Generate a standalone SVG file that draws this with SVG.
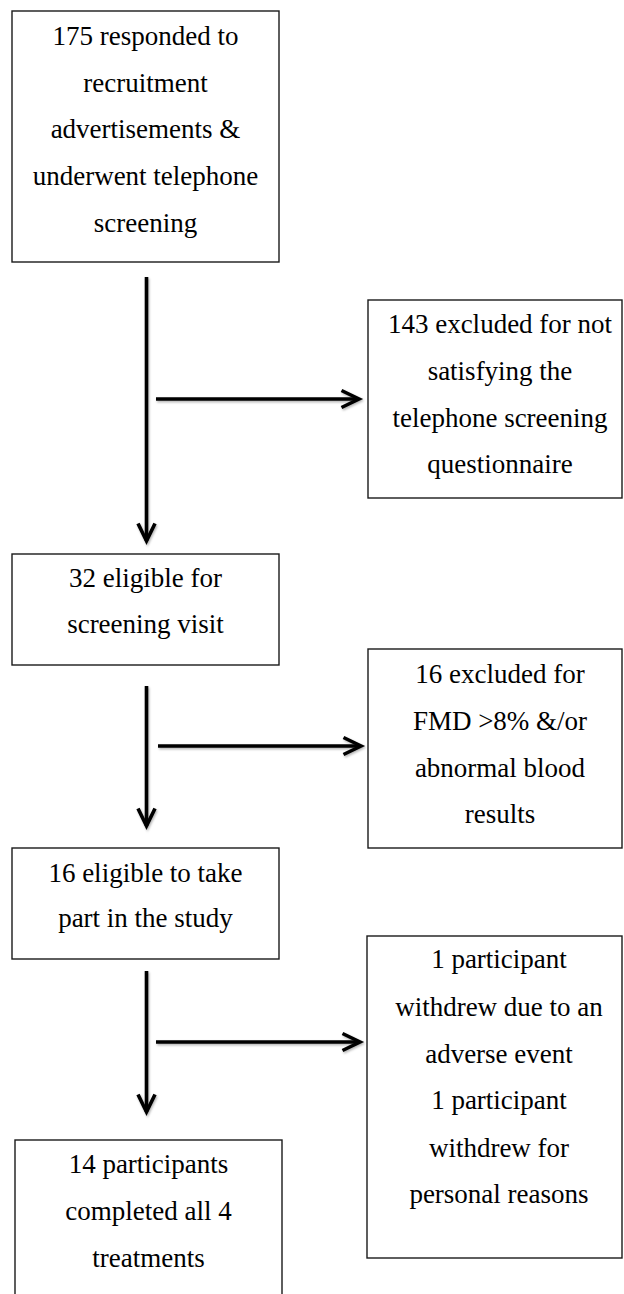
<svg xmlns="http://www.w3.org/2000/svg" width="624" height="1294" viewBox="0 0 624 1294">
  <style>
    .box { fill: #ffffff; stroke: #1a1a1a; stroke-width: 1.4; }
    .lbl { font-family: "Liberation Serif", "Times New Roman", serif; font-size: 27px; fill: #000000; text-anchor: middle; }
    .conn { stroke: #000000; stroke-width: 3.6; fill: none; stroke-linecap: butt; }
  </style>
  <defs>
    <filter id="shadow" filterUnits="userSpaceOnUse" x="0" y="0" width="624" height="1294">
      <feDropShadow dx="1" dy="1.5" stdDeviation="1.2" flood-color="#000000" flood-opacity="0.3"/>
    </filter>
    <marker id="arrow" markerUnits="userSpaceOnUse" markerWidth="24" markerHeight="24" viewBox="-2 -2 24 24" refX="17.5" refY="9" orient="auto" overflow="visible">
      <path d="M0,0.5 L17.5,9 L0,17.5" fill="none" stroke="#000000" stroke-width="3.6" stroke-linejoin="miter" stroke-miterlimit="4"/>
    </marker>
  </defs>
  <rect width="624" height="1294" fill="#ffffff"/>

  <g id="node-responded">
    <rect class="box" x="12" y="11" width="267" height="251"/>
    <text class="lbl" x="145.5" y="45">175 responded to</text>
    <text class="lbl" x="145.5" y="92">recruitment</text>
    <text class="lbl" x="145.5" y="138">advertisements &amp;</text>
    <text class="lbl" x="145.5" y="185">underwent telephone</text>
    <text class="lbl" x="145.5" y="232">screening</text>
  </g>

  <g id="node-excluded-143">
    <rect class="box" x="368" y="300" width="254" height="198"/>
    <text class="lbl" x="500" y="333">143 excluded for not</text>
    <text class="lbl" x="500" y="380">satisfying the</text>
    <text class="lbl" x="500" y="427">telephone screening</text>
    <text class="lbl" x="500" y="473">questionnaire</text>
  </g>

  <g id="node-eligible-32">
    <rect class="box" x="12" y="554" width="267" height="111"/>
    <text class="lbl" x="145.5" y="587">32 eligible for</text>
    <text class="lbl" x="145.5" y="633">screening visit</text>
  </g>

  <g id="node-excluded-16">
    <rect class="box" x="368" y="649" width="254" height="199"/>
    <text class="lbl" x="500" y="683">16 excluded for</text>
    <text class="lbl" x="500" y="730">FMD &gt;8% &amp;/or</text>
    <text class="lbl" x="500" y="777">abnormal blood</text>
    <text class="lbl" x="500" y="823">results</text>
  </g>

  <g id="node-eligible-16">
    <rect class="box" x="12" y="848" width="267" height="111"/>
    <text class="lbl" x="145.5" y="882">16 eligible to take</text>
    <text class="lbl" x="145.5" y="927">part in the study</text>
  </g>

  <g id="node-withdrew">
    <rect class="box" x="367" y="936" width="255" height="322"/>
    <text class="lbl" x="499" y="968">1 participant</text>
    <text class="lbl" x="499" y="1016">withdrew due to an</text>
    <text class="lbl" x="499" y="1063">adverse event</text>
    <text class="lbl" x="499" y="1109">1 participant</text>
    <text class="lbl" x="499" y="1157">withdrew for</text>
    <text class="lbl" x="499" y="1203">personal reasons</text>
  </g>

  <g id="node-completed">
    <rect class="box" x="15" y="1140" width="267" height="170"/>
    <text class="lbl" x="148.5" y="1173">14 participants</text>
    <text class="lbl" x="148.5" y="1220">completed all 4</text>
    <text class="lbl" x="148.5" y="1267">treatments</text>
  </g>

  <g id="connectors" filter="url(#shadow)">
    <line class="conn" x1="146.5" y1="277" x2="146.5" y2="541" marker-end="url(#arrow)"/>
    <line class="conn" x1="156" y1="399" x2="359" y2="399" marker-end="url(#arrow)"/>
    <line class="conn" x1="146.5" y1="686" x2="146.5" y2="826" marker-end="url(#arrow)"/>
    <line class="conn" x1="158" y1="746" x2="361" y2="746" marker-end="url(#arrow)"/>
    <line class="conn" x1="146.5" y1="971" x2="146.5" y2="1112" marker-end="url(#arrow)"/>
    <line class="conn" x1="156" y1="1042" x2="360" y2="1042" marker-end="url(#arrow)"/>
  </g>
</svg>
